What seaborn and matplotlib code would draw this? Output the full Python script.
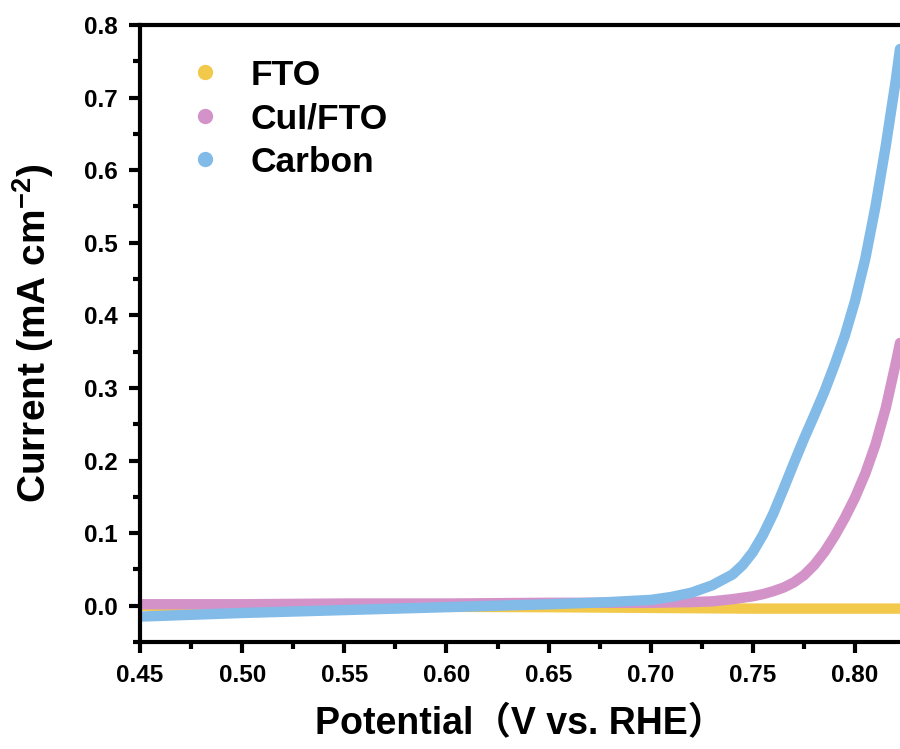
import numpy as np
import pandas as pd
import matplotlib
matplotlib.use("Agg")
import matplotlib.pyplot as plt
from matplotlib.lines import Line2D
from matplotlib.ticker import MultipleLocator
import seaborn as sns

# ---- data ----
fto_v = [0.45, 0.55, 0.65, 0.70, 0.75, 0.80, 0.822]
fto_j = [0.000, -0.001, -0.002, -0.003, -0.004, -0.004, -0.004]

cui_v = [0.45, 0.50, 0.55, 0.60, 0.65, 0.70, 0.72, 0.73, 0.74, 0.75, 0.755, 0.76, 0.765,
         0.77, 0.775, 0.78, 0.785, 0.79, 0.795, 0.80, 0.805, 0.81, 0.815, 0.82, 0.822]
cui_j = [0.002, 0.002, 0.003, 0.003, 0.004, 0.004, 0.005, 0.006, 0.009, 0.013, 0.016, 0.020, 0.025,
         0.032, 0.042, 0.056, 0.074, 0.096, 0.121, 0.149, 0.182, 0.222, 0.272, 0.335, 0.362]

carbon_v = [0.45, 0.50, 0.55, 0.60, 0.65, 0.68, 0.70, 0.71, 0.72, 0.73, 0.74,
            0.745, 0.75, 0.755, 0.76, 0.765, 0.77, 0.775, 0.78, 0.785, 0.79, 0.795, 0.80,
            0.805, 0.81, 0.815, 0.82, 0.822]
carbon_j = [-0.015, -0.010, -0.006, -0.002, 0.002, 0.005, 0.008, 0.012, 0.018, 0.028, 0.043,
            0.056, 0.074, 0.098, 0.127, 0.161, 0.196, 0.230, 0.262, 0.295, 0.332, 0.372, 0.420,
            0.478, 0.550, 0.633, 0.725, 0.767]

series_names = ["FTO", "CuI/FTO", "Carbon"]
series_colors = ["#f2c94a", "#d393c9", "#82bbe8"]

x_ticks = [0.45, 0.50, 0.55, 0.60, 0.65, 0.70, 0.75, 0.80]
y_ticks = [0.0, 0.1, 0.2, 0.3, 0.4, 0.5, 0.6, 0.7, 0.8]

df = pd.concat([
    pd.DataFrame({"V": fto_v, "J": fto_j, "sample": "FTO"}),
    pd.DataFrame({"V": cui_v, "J": cui_j, "sample": "CuI/FTO"}),
    pd.DataFrame({"V": carbon_v, "J": carbon_j, "sample": "Carbon"}),
], ignore_index=True)

sns.set_style("white")
plt.rcParams["font.family"] = ["Liberation Sans", "Noto Sans CJK SC", "DejaVu Sans"]
plt.rcParams["font.weight"] = "bold"
plt.rcParams["mathtext.default"] = "regular"
for k in ["text.color", "axes.labelcolor", "xtick.color", "ytick.color", "axes.edgecolor"]:
    plt.rcParams[k] = "black"

fig = plt.figure(figsize=(9, 7.49), dpi=100)
ax = fig.add_axes([140 / 900, 1 - 642 / 749, 1 - 140 / 900, (642 - 25) / 749])

palette = dict(zip(series_names, series_colors))
sns.lineplot(data=df, x="V", y="J", hue="sample", hue_order=series_names,
             palette=palette, linewidth=7.5, legend=False, ax=ax, sort=True,
             estimator=None, solid_capstyle="round", solid_joinstyle="round")

ax.set_xlim(0.45, 0.822)
ax.set_ylim(-0.05, 0.8)
ax.set_xticks(x_ticks)
ax.set_xticklabels([f"{t:.2f}" for t in x_ticks])
ax.set_yticks(y_ticks)
ax.set_yticklabels([f"{t:.1f}" for t in y_ticks])
ax.xaxis.set_minor_locator(MultipleLocator(0.025))
ax.yaxis.set_minor_locator(MultipleLocator(0.05))

for side in ["left", "bottom", "top"]:
    ax.spines[side].set_linewidth(3)
    ax.spines[side].set_color("black")
ax.spines["right"].set_visible(False)

ax.tick_params(axis="both", which="major", direction="out", length=8, width=3,
               labelsize=17.5, pad=8, colors="black")
ax.tick_params(axis="both", which="minor", direction="out", length=5, width=3, colors="black")
ax.tick_params(top=False, right=False, which="both")
ax.tick_params(bottom=True, left=True, which="both")
for lab in ax.get_xticklabels() + ax.get_yticklabels():
    lab.set_fontweight("bold")

ax.set_xlabel("Potential（V vs. RHE）", fontsize=27, fontweight="bold", labelpad=14,
              family=["Liberation Sans", "Noto Sans CJK SC"], color="black")
ax.set_ylabel("Current (mA cm$^{-2}$)", fontsize=28, fontweight="bold", labelpad=20,
              color="black")

handles = [Line2D([0], [0], marker="o", linestyle="none", markersize=10,
                  markerfacecolor=c, markeredgecolor=c) for c in series_colors]
leg = ax.legend(handles, series_names, loc="upper left", frameon=False,
                bbox_to_anchor=(-0.008, 1.003), handletextpad=0.3, labelspacing=0.3,
                borderaxespad=0.6, handlelength=2.0,
                prop={"size": 25.5, "weight": "bold", "family": "Liberation Sans"})
for t in leg.get_texts():
    t.set_color("black")

fig.savefig("out.png", dpi=100)
